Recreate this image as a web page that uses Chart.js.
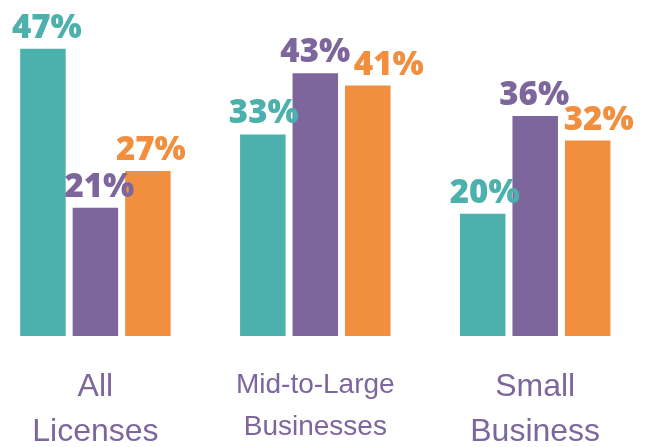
<!DOCTYPE html>
<html>
<head>
<meta charset="utf-8">
<style>
  html, body { margin: 0; padding: 0; background: #ffffff; overflow: hidden; }
  #wrap { position: relative; width: 647px; height: 447px; }
</style>
<script src="https://cdn.jsdelivr.net/npm/chart.js@4/dist/chart.umd.min.js"></script>
</head>
<body>
<div id="wrap"><canvas id="chart"></canvas></div>
<script>
// Categories and their two-line axis labels
const categories = ['All Licenses', 'Mid-to-Large Businesses', 'Small Business'];
const categoryLines = [['All', 'Licenses'], ['Mid-to-Large', 'Businesses'], ['Small', 'Business']];

// Series values (percent)
const tealValues = [47, 33, 20];
const purpleValues = [21, 43, 36];
const orangeValues = [27, 41, 32];

const TEAL = '#4CB1AD';
const PURPLE = '#7D669C';
const ORANGE = '#F28F3E';
const LABEL_FONT = "'Liberation Sans', Arial, sans-serif";

// Percent labels above each bar, drawn after all bars so they sit on top
const valueLabels = {
  id: 'valueLabels',
  afterDatasetsDraw(chart, args, opts) {
    const ctx = chart.ctx;
    ctx.save();
    ctx.font = opts.font;
    ctx.textAlign = 'center';
    ctx.textBaseline = 'alphabetic';
    chart.data.datasets.forEach((ds, di) => {
      chart.getDatasetMeta(di).data.forEach((bar, i) => {
        const nudge = (opts.nudge[di] && opts.nudge[di][i]) || 0;
        ctx.fillStyle = ds.backgroundColor;
        ctx.fillText(ds.data[i] + '%', bar.x + nudge, bar.y - opts.gap);
      });
    });
    ctx.restore();
  }
};

new Chart(document.getElementById('chart'), {
  type: 'bar',
  data: {
    labels: categories,
    datasets: [
      { data: tealValues, backgroundColor: TEAL },
      { data: purpleValues, backgroundColor: PURPLE },
      { data: orangeValues, backgroundColor: ORANGE }
    ]
  },
  options: {
    responsive: true,
    maintainAspectRatio: false,
    animation: false,
    layout: { padding: { left: 95.4, right: 111.8, top: 0, bottom: 0 } },
    datasets: {
      bar: { categoryPercentage: 0.716, barPercentage: 0.867, borderWidth: 0, clip: false }
    },
    scales: {
      x: {
        type: 'category',
        offset: false,
        grid: { display: false, drawTicks: false, offset: false },
        border: { display: false },
        afterFit: (axis) => {
          axis.height = 111;
          axis.paddingLeft = 0;
          axis.paddingRight = 0;
        },
        ticks: {
          autoSkip: false,
          maxRotation: 0,
          minRotation: 0,
          padding: 28,
          color: PURPLE,
          font: (ctx) => ctx.index === 1
            ? { family: LABEL_FONT, size: 28, lineHeight: 42 / 28 }
            : { family: LABEL_FONT, size: 32, lineHeight: 45.6 / 32 },
          callback: (value, index) => categoryLines[index]
        }
      },
      y: {
        display: false,
        min: 0,
        max: 55
      }
    },
    plugins: {
      legend: { display: false },
      tooltip: { enabled: false },
      valueLabels: {
        font: "900 33px 'Noto Sans', sans-serif",
        gap: 11,
        nudge: [[4, 1, 2], [4, 0, -1], [3, 21, 11]]
      }
    }
  },
  plugins: [valueLabels]
});
</script>
</body>
</html>
